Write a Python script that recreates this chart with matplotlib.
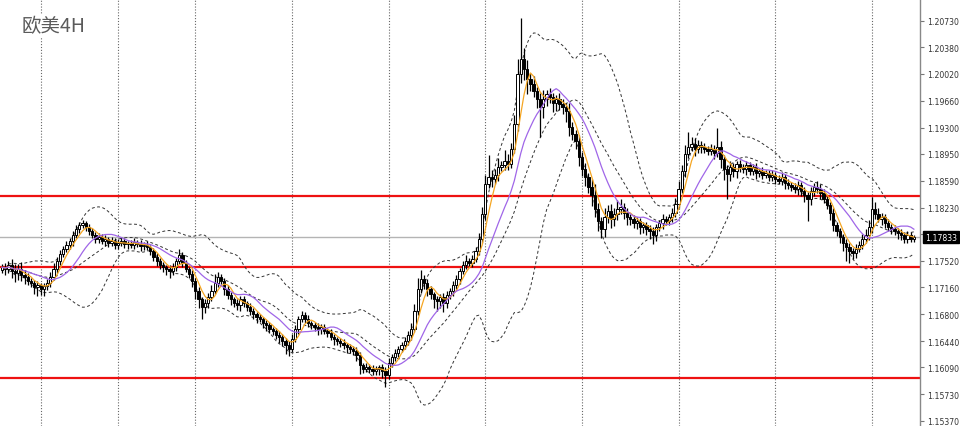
import matplotlib
matplotlib.use("Agg")
import matplotlib.pyplot as plt
import numpy as np
import pandas as pd

# ---- data (EUR/USD 4H) ----
closes = [
    1.1743, 1.1741, 1.1746, 1.1738, 1.1735, 1.1741, 1.1733, 1.1730, 1.1725, 1.1722,
    1.1717, 1.1719, 1.1714, 1.1718, 1.1722, 1.1730, 1.1741, 1.1751, 1.1761, 1.1768,
    1.1773, 1.1778, 1.1786, 1.1794, 1.1799, 1.1802, 1.1797, 1.1791, 1.1786, 1.1781,
    1.1783, 1.1778, 1.1781, 1.1775, 1.1778, 1.1773, 1.1775, 1.1778, 1.1774, 1.1775,
    1.1773, 1.1777, 1.1774, 1.1771, 1.1773, 1.1770, 1.1765, 1.1757, 1.1751, 1.1746,
    1.1743, 1.1741, 1.1738, 1.1743, 1.1751, 1.1759, 1.1749, 1.1741, 1.1734, 1.1725,
    1.1711, 1.1700, 1.1690, 1.1695, 1.1703, 1.1711, 1.1722, 1.1730, 1.1725, 1.1714,
    1.1706, 1.1700, 1.1695, 1.1692, 1.1700, 1.1695, 1.1690, 1.1684, 1.1680, 1.1676,
    1.1674, 1.1668, 1.1666, 1.1660, 1.1658, 1.1652, 1.1650, 1.1644, 1.1639, 1.1634,
    1.1647, 1.1660, 1.1674, 1.1679, 1.1674, 1.1668, 1.1666, 1.1663, 1.1660, 1.1663,
    1.1658, 1.1655, 1.1650, 1.1647, 1.1644, 1.1642, 1.1639, 1.1636, 1.1634, 1.1631,
    1.1626, 1.1612, 1.1607, 1.1609, 1.1607, 1.1604, 1.1607, 1.1609, 1.1604, 1.1599,
    1.1615, 1.1623, 1.1628, 1.1634, 1.1639, 1.1644, 1.1652, 1.1660, 1.1684, 1.1714,
    1.1727, 1.1722, 1.1714, 1.1707, 1.1700, 1.1698, 1.1703, 1.1695, 1.1706, 1.1711,
    1.1719, 1.1727, 1.1738, 1.1746, 1.1751, 1.1749, 1.1754, 1.1765, 1.1781, 1.1814,
    1.1855, 1.1864, 1.1861, 1.1867, 1.1877, 1.1880, 1.1885, 1.1881, 1.1902, 1.1935,
    1.2002, 1.2022, 1.2009, 1.1995, 1.1989, 1.1979, 1.1969, 1.1958, 1.1969, 1.1975,
    1.1971, 1.1963, 1.1969, 1.1962, 1.1958, 1.1953, 1.1931, 1.1922, 1.1912, 1.1891,
    1.1875, 1.1864, 1.1851, 1.1840, 1.1821, 1.1805, 1.1794, 1.1810, 1.1818, 1.1808,
    1.1814, 1.1821, 1.1824, 1.1816, 1.1810, 1.1808, 1.1802, 1.1805, 1.1797, 1.1799,
    1.1794, 1.1791, 1.1786, 1.1797, 1.1802, 1.1808, 1.1805, 1.1810, 1.1816, 1.1828,
    1.1848, 1.1872, 1.1895, 1.1904, 1.1908, 1.1902, 1.1907, 1.1904, 1.1902, 1.1899,
    1.1902, 1.1896, 1.1904, 1.1888, 1.1875, 1.1868, 1.1877, 1.1872, 1.1881, 1.1877,
    1.1875, 1.1880, 1.1872, 1.1877, 1.1869, 1.1872, 1.1867, 1.1869, 1.1864, 1.1867,
    1.1861, 1.1859, 1.1864, 1.1856, 1.1853, 1.1851, 1.1848, 1.1853, 1.1845, 1.1840,
    1.1835, 1.1845, 1.1851, 1.1848, 1.1843, 1.1835, 1.1826, 1.1816, 1.1799, 1.1791,
    1.1783, 1.1775, 1.1770, 1.1765, 1.1762, 1.1768, 1.1773, 1.1781, 1.1786, 1.1797,
    1.1821, 1.1814, 1.1808, 1.1810, 1.1802, 1.1797, 1.1794, 1.1791, 1.1789, 1.1786,
    1.1781, 1.1786, 1.1781, 1.17833,
]
first_open = 1.1740

# wick lengths in pips (0.0001)
upper_wick = [
    4, 6, 5, 8, 10, 6, 9, 7, 5, 4,
    4, 5, 3, 4, 5, 6, 8, 6, 5, 4,
    5, 4, 6, 5, 4, 5, 3, 4, 5, 4,
    6, 4, 5, 3, 5, 4, 6, 5, 4, 3,
    4, 5, 3, 6, 4, 5, 3, 4, 5, 4,
    4, 3, 5, 6, 4, 8, 5, 4, 3, 5,
    4, 5, 3, 6, 5, 8, 12, 6, 4, 3,
    5, 4, 3, 6, 5, 4, 3, 5, 4, 3,
    4, 3, 5, 4, 3, 4, 5, 3, 4, 5,
    6, 5, 4, 6, 4, 5, 3, 4, 5, 4,
    4, 3, 5, 4, 3, 4, 5, 3, 4, 3,
    5, 4, 3, 6, 4, 5, 4, 3, 4, 5,
    6, 4, 5, 3, 4, 5, 6, 8, 10, 14,
    12, 6, 5, 4, 3, 5, 4, 6, 5, 4,
    5, 6, 4, 5, 8, 4, 6, 5, 8, 10,
    12, 30, 10, 8, 12, 6, 15, 10, 8, 12,
    20, 55, 15, 12, 8, 10, 6, 8, 12, 6,
    8, 6, 5, 8, 6, 5, 10, 6, 5, 8,
    6, 8, 5, 10, 14, 8, 6, 12, 8, 10,
    8, 12, 10, 5, 6, 4, 5, 6, 4, 5,
    4, 5, 6, 4, 5, 6, 4, 5, 6, 8,
    10, 8, 12, 20, 10, 8, 6, 5, 6, 4,
    6, 5, 25, 8, 6, 5, 8, 6, 5, 6,
    5, 6, 4, 5, 6, 4, 5, 4, 5, 6,
    4, 5, 6, 4, 5, 4, 5, 6, 4, 5,
    4, 6, 5, 8, 6, 5, 4, 5, 6, 4,
    5, 4, 6, 5, 4, 6, 5, 6, 8, 10,
    16, 10, 8, 6, 5, 6, 4, 5, 4, 5,
    4, 5, 4, 3,
]
lower_wick = [
    5, 8, 6, 10, 12, 9, 8, 10, 6, 5,
    10, 12, 8, 10, 6, 5, 4, 6, 5, 4,
    4, 5, 6, 4, 5, 3, 6, 5, 4, 5,
    5, 4, 6, 5, 4, 6, 5, 4, 5, 6,
    4, 5, 4, 6, 5, 4, 6, 5, 6, 5,
    6, 8, 10, 6, 5, 4, 6, 5, 6, 8,
    10, 12, 16, 8, 6, 5, 4, 6, 5, 8,
    6, 8, 5, 6, 8, 5, 6, 5, 6, 8,
    5, 6, 8, 5, 6, 5, 8, 6, 12, 10,
    5, 4, 6, 5, 6, 5, 6, 5, 8, 6,
    5, 6, 5, 8, 5, 6, 5, 8, 6, 5,
    8, 12, 6, 5, 6, 5, 6, 8, 10, 16,
    6, 5, 6, 5, 4, 6, 5, 6, 4, 5,
    6, 8, 10, 6, 12, 14, 10, 12, 6, 5,
    6, 5, 6, 4, 5, 6, 5, 4, 6, 5,
    8, 6, 10, 6, 8, 5, 6, 8, 5, 6,
    10, 12, 15, 20, 10, 8, 12, 40, 15, 10,
    8, 12, 10, 8, 10, 15, 12, 8, 10, 12,
    10, 12, 8, 15, 10, 14, 12, 10, 8, 12,
    10, 8, 6, 8, 10, 8, 6, 8, 10, 8,
    8, 10, 12, 8, 6, 8, 6, 5, 6, 5,
    6, 5, 8, 6, 5, 10, 6, 8, 6, 5,
    6, 8, 5, 12, 15, 33, 10, 8, 10, 6,
    6, 8, 5, 6, 8, 5, 6, 5, 6, 5,
    6, 5, 6, 8, 5, 6, 5, 8, 6, 10,
    30, 8, 6, 5, 8, 6, 5, 10, 8, 6,
    8, 10, 18, 16, 8, 6, 5, 6, 5, 6,
    8, 6, 5, 8, 6, 5, 6, 5, 8, 6,
    5, 6, 4, 4,
]

level_lines = [1.18385, 1.17434, 1.15946]
price_ticks = [1.20730, 1.20380, 1.20020, 1.19660, 1.19300, 1.18950, 1.18590,
               1.18230, 1.17870, 1.17520, 1.17160, 1.16800, 1.16440, 1.16090,
               1.15730, 1.15370]
week_starts = [12, 36, 60, 90, 120, 150, 180, 210, 240, 270]
title = "欧美4H"

# ---- derived OHLC & indicators ----
c = np.array(closes)
o = np.concatenate([[first_open], c[:-1]])
hi = np.maximum(o, c) + np.array(upper_wick) / 10000.0
lo = np.minimum(o, c) - np.array(lower_wick) / 10000.0
idx = np.arange(len(c))
s = pd.Series(c)
ma_fast = s.rolling(5, min_periods=1).mean()
ma_slow = s.rolling(13, min_periods=1).mean()
bb_mid = s.rolling(20, min_periods=3).mean()
bb_std = s.rolling(20, min_periods=3).std(ddof=0)
bb_up = bb_mid + 2 * bb_std
bb_dn = bb_mid - 2 * bb_std

# ---- figure ----
fig = plt.figure(figsize=(9.6, 4.27), dpi=100)
ax = fig.add_axes([0, 0, 920 / 960, 1])
ax.set_xlim(-0.62, 284.9)
ax.set_ylim(1.15303, 1.210248)

for xg in week_starts:
    ax.axvline(xg, color="#666666", lw=0.8, ls=(0, (1, 1.6)), zorder=1)

for lv in level_lines:
    ax.axhline(lv, color="#ee1111", lw=1.6, zorder=2)
ax.axhline(closes[-1], color="#b4b4b4", lw=1.0, zorder=2)

# bollinger bands
for band in (bb_up, bb_mid, bb_dn):
    ax.plot(idx, band, color="#333333", lw=0.7, ls=(0, (3, 2.5)), zorder=3)

# candles
ax.vlines(idx, lo, hi, color="black", lw=0.9, zorder=4)
bull = c >= o
w = 0.72
ax.bar(idx[bull], (c - o)[bull], bottom=o[bull], width=w, color="white",
       edgecolor="black", linewidth=0.7, zorder=5)
ax.bar(idx[~bull], (o - c)[~bull], bottom=c[~bull], width=w, color="black",
       edgecolor="black", linewidth=0.7, zorder=5)

ax.plot(idx, ma_fast, color="#f5a623", lw=0.9, zorder=6)
ax.plot(idx, ma_slow, color="#a066e8", lw=0.9, zorder=6)

# axes styling
for sp in ("left", "top", "bottom"):
    ax.spines[sp].set_visible(False)
ax.spines["right"].set_color("#888888")
ax.spines["right"].set_linewidth(1.0)
ax.set_xticks([])
ax.yaxis.tick_right()
ax.set_yticks(price_ticks)
ax.set_yticklabels([f"{t:.5f}" for t in price_ticks])
ax.tick_params(axis="y", direction="out", length=3, width=0.8, color="#777777",
               labelsize=5.6, labelcolor="#333333", pad=2)

fig.text(22 / 960, 1 - 27 / 427, title,
         fontsize=14, color="#5a5a5a", va="center", ha="left",
         family=["Noto Sans CJK SC", "DejaVu Sans"], zorder=10,
         bbox=dict(facecolor="white", edgecolor="none", pad=1))

# current price box
fig.text(925 / 960, ax.transData.transform((0, closes[-1]))[1] / fig.bbox.height,
         f"{closes[-1]:.5f}", color="white", fontsize=5.6, va="center", ha="left",
         bbox=dict(facecolor="black", edgecolor="black", pad=1.2), zorder=10)

fig.savefig("out.png", dpi=100, facecolor="white")
